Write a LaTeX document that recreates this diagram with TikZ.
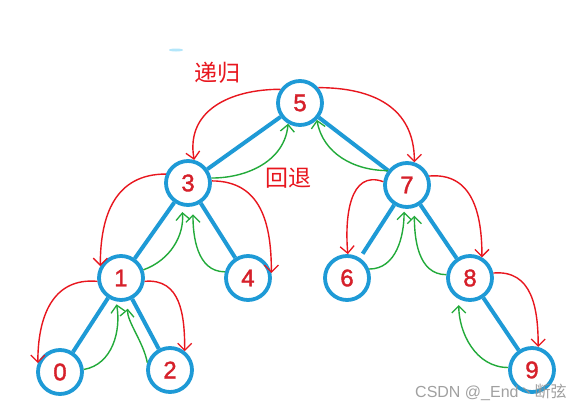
\documentclass[tikz,border=0pt]{standalone}
\usepackage{fontspec}
\setmainfont{Liberation Sans}
\newfontfamily\digitfont{Liberation Sans}[FakeBold=1.6]
\newfontfamily\cjk{Noto Sans CJK SC}
\usetikzlibrary{arrows.meta,backgrounds}
\definecolor{nodeblue}{RGB}{30,154,214}
\definecolor{digitred}{RGB}{214,32,42}
\definecolor{penred}{RGB}{232,22,30}
\definecolor{pengreen}{RGB}{34,170,58}
\definecolor{wmgray}{RGB}{150,150,150}
\begin{document}
\begin{tikzpicture}[x=1pt,y=-1pt,
  treenode/.style={circle,draw=nodeblue,line width=3.8pt,fill=white,minimum size=44pt,inner sep=0pt,
    font=\digitfont\fontsize{24}{24}\selectfont,text=digitred},
  treeedge/.style={draw=nodeblue,line width=4pt},
  recur/.style={draw=penred,line width=1.4pt,-{Straight Barb[length=7pt,width=14pt,line width=1.3pt]}},
  back/.style={draw=pengreen,line width=1.4pt,-{Straight Barb[length=7pt,width=14pt,line width=1.3pt]}},
  lbl/.style={font=\cjk\fontsize{23}{23}\selectfont,text=penred}
]
\useasboundingbox (0,0) rectangle (582,410);

% nodes
\node[treenode] (n5) at (300,103) {5};
\node[treenode] (n3) at (188,183) {3};
\node[treenode] (n7) at (407,185) {7};
\node[treenode] (n1) at (121,278) {1};
\node[treenode] (n4) at (248,278) {4};
\node[treenode] (n6) at (347,278) {6};
\node[treenode] (n8) at (470,278) {8};
\node[treenode] (n0) at (60,372) {0};
\node[treenode] (n2) at (170,370) {2};
\node[treenode] (n9) at (532,370) {9};

% tree edges, behind the nodes
\begin{pgfonlayer}{background}
\fill[white] (0,0) rectangle (582,410);
\fill[cyan!30] (176,50) ellipse (7pt and 1.5pt);
\draw[treeedge] (n5) -- (n3);
\draw[treeedge] (n5) -- (n7);
\draw[treeedge] (n3) -- (n1);
\draw[treeedge] (n3) -- (n4);
\draw[treeedge,shorten >=5pt] (n7) -- (n6);
\draw[treeedge] (n7) -- (n8);
\draw[treeedge] (n1) -- (n0);
\draw[treeedge] (n1) -- (n2);
\draw[treeedge] (n8) -- (n9);
\end{pgfonlayer}

% labels
\node[lbl] (t1) at (217,73) {递归};
\node[lbl] (t2) at (288,178) {回退};

% recursion (red)
\draw[recur] (n5.145) to[out=180,in=100,looseness=1.15] (n3.75);
\draw[recur] (n5.40) to[out=0,in=90,looseness=1.15] (n7.72);
\draw[recur] (n3.158) to[out=180,in=90,looseness=1.15] (n1.150);
\draw[recur] (n3.5) to[out=0,in=90,looseness=1.15] (n4.12);
\draw[recur] (n1.188) to[out=175,in=90,looseness=1.15] (n0.158);
\draw[recur] (n1.-8) to[out=5,in=90,looseness=1.15] (n2.52);
\draw[recur] (n7.172) to[out=160,in=95,looseness=1.15] (n6.88);
\draw[recur] (n7.22) to[out=5,in=90,looseness=1.15] (n8.60);
\draw[recur] (n8.12) to[out=5,in=90,looseness=1.15] (n9.75);

% backtracking (green)
\draw[back] (n3.12) to[out=0,in=-95,looseness=1] (n5.240);
\draw[back] (n7.143) to[out=180,in=-80,looseness=1] (n5.-45);
\draw[back,shorten >=6pt] (n1.20) to[out=20,in=-85,looseness=1] (n3.255);
\draw[back,shorten >=8pt] (n4.165) to[out=180,in=-90,looseness=1] (n3.-78);
\draw[back,shorten >=3pt] (n0.6) to[out=10,in=-80,looseness=1] (n1.-102);
\draw[back,shorten >=8pt] (n2.162) to[out=100,in=-95,looseness=0.8] (n1.-72);
\draw[back,shorten >=3pt] (n6.22) to[out=0,in=-90,looseness=1] (n7.-97);
\draw[back,shorten >=8pt] (n8.172) to[out=180,in=-90,looseness=1] (n7.-72);
\draw[back,shorten >=6pt] (n9.174) to[out=180,in=-90,looseness=1] (n8.-118);

% watermark
\node[text=wmgray,opacity=0.9,anchor=west,inner sep=0pt,font=\fontsize{16}{16}\selectfont] (wm) at (415,392) {CSDN @\_End{\cjk 丶断弦}};
\end{tikzpicture}
\end{document}
